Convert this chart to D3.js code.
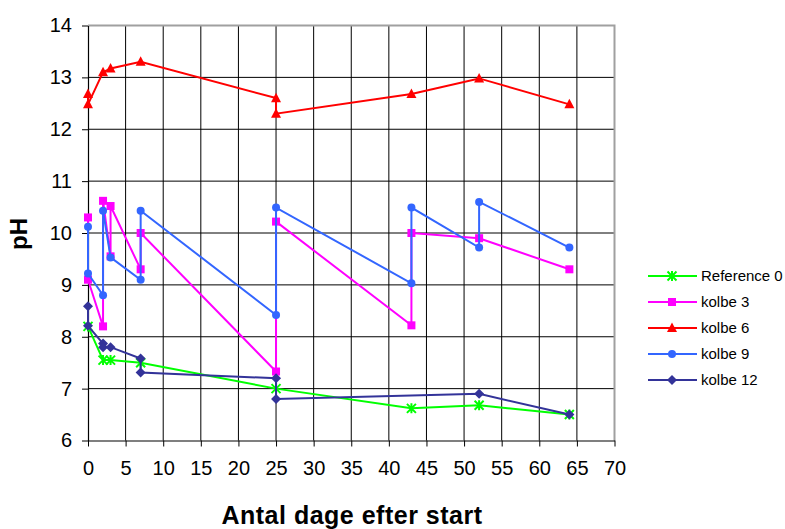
<!DOCTYPE html>
<html>
<head>
<meta charset="utf-8">
<script src="https://cdn.jsdelivr.net/npm/d3@7"></script>
<style>
  html, body { margin: 0; padding: 0; background: #fff; }
  svg { display: block; font-family: "Liberation Sans", Arial, sans-serif; }
</style>
</head>
<body>
<svg id="chart" width="785" height="529"></svg>
<script>
// ---- data ----
const xTicks = [0, 5, 10, 15, 20, 25, 30, 35, 40, 45, 50, 55, 60, 65, 70];
const yTicks = [6, 7, 8, 9, 10, 11, 12, 13, 14];

const seriesNames = ["Reference 0", "kolbe 3", "kolbe 6", "kolbe 9", "kolbe 12"];
const seriesColors = ["#00ff00", "#ff00ff", "#ff0000", "#3366ff", "#333399"];
const seriesMarkers = ["asterisk", "square", "triangle", "circle", "diamond"];

const refDays = [0, 2, 3, 7, 25, 43, 52, 64];
const refPH   = [8.2, 7.55, 7.55, 7.5, 7.0, 6.62, 6.68, 6.5];

const k3Days = [0, 0, 2, 2, 3, 3, 7, 7, 25, 25, 43, 43, 52, 64];
const k3PH   = [10.3, 9.1, 8.2, 10.62, 9.55, 10.52, 9.3, 10.0, 7.33, 10.22, 8.22, 10.0, 9.9, 9.3];

const k6Days = [0, 0, 2, 3, 7, 25, 25, 43, 52, 64];
const k6PH   = [12.68, 12.48, 13.1, 13.17, 13.3, 12.6, 12.3, 12.68, 12.98, 12.48];

const k9Days = [0, 0, 2, 2, 3, 7, 7, 25, 25, 43, 43, 52, 52, 64];
const k9PH   = [10.12, 9.22, 8.8, 10.43, 9.53, 9.1, 10.43, 8.42, 10.49, 9.03, 10.49, 9.72, 10.6, 9.72];

const k12Days = [0, 0, 2, 2, 3, 7, 7, 25, 25, 52, 64];
const k12PH   = [8.59, 8.21, 7.87, 7.8, 7.8, 7.58, 7.31, 7.2, 6.8, 6.9, 6.5];

const allDays = [refDays, k3Days, k6Days, k9Days, k12Days];
const allPH = [refPH, k3PH, k6PH, k9PH, k12PH];

const xTitle = "Antal dage efter start";
const yTitle = "pH";

// ---- layout ----
(function () {
const svg = d3.select("#chart");
const pLeft = 88, pRight = 614.5, pTop = 25.5, pBottom = 440.5;
const x = d3.scaleLinear().domain([0, 70]).range([pLeft, pRight]);
const y = d3.scaleLinear().domain([6, 14]).range([pBottom, pTop]);

// gridlines
const grid = svg.append("g");
grid.selectAll("line.h").data(yTicks.filter(d => d > 6 && d < 14)).enter().append("line")
  .attr("x1", pLeft).attr("x2", pRight)
  .attr("y1", d => y(d)).attr("y2", d => y(d))
  .attr("stroke", "#000").attr("stroke-width", 1);
grid.selectAll("line.v").data(xTicks.filter(d => d > 0 && d < 70)).enter().append("line")
  .attr("y1", pTop).attr("y2", pBottom)
  .attr("x1", d => x(d)).attr("x2", d => x(d))
  .attr("stroke", "#000").attr("stroke-width", 1);

// plot border (top/right gray)
svg.append("path")
  .attr("d", `M${pLeft},${y(14)}H${x(70)}V${pBottom}`)
  .attr("fill", "none").attr("stroke", "#a0a0a0").attr("stroke-width", 2);

// axes
const xAxis = d3.axisBottom(x).tickValues(xTicks).tickSize(6).tickPadding(14).tickSizeOuter(0);
const gx = svg.append("g").attr("transform", `translate(0,${pBottom})`).call(xAxis);
gx.select(".domain").attr("stroke", "#000").attr("stroke-width", 1.2);
gx.selectAll(".tick line").attr("stroke", "#000");
gx.selectAll(".tick text").attr("font-size", 20).attr("fill", "#000")
  .attr("font-family", "'Liberation Sans', Arial, sans-serif");

const yAxis = d3.axisLeft(y).tickValues(yTicks).tickSize(6).tickPadding(10).tickSizeOuter(0);
const gy = svg.append("g").attr("transform", `translate(${pLeft},0)`).call(yAxis);
gy.select(".domain").attr("stroke", "#000").attr("stroke-width", 1.2);
gy.selectAll(".tick line").attr("stroke", "#000");
gy.selectAll(".tick text").attr("font-size", 20).attr("fill", "#000")
  .attr("font-family", "'Liberation Sans', Arial, sans-serif");

// titles
svg.append("text").attr("x", 352).attr("y", 524)
  .attr("text-anchor", "middle").attr("font-size", 25).attr("font-weight", "bold")
  .attr("letter-spacing", 0.5).text(xTitle);
svg.append("text").attr("transform", "translate(27,234) rotate(-90)")
  .attr("text-anchor", "middle").attr("font-size", 24).attr("font-weight", "bold")
  .text(yTitle);

// markers
function drawMarker(g, type, cx, cy, color) {
  if (type === "square") {
    g.append("rect").attr("x", cx - 4).attr("y", cy - 4).attr("width", 8).attr("height", 8).attr("fill", color);
  } else if (type === "triangle") {
    g.append("path").attr("d", `M${cx},${cy - 5.5}L${cx + 5},${cy + 4}L${cx - 5},${cy + 4}Z`).attr("fill", color);
  } else if (type === "circle") {
    g.append("circle").attr("cx", cx).attr("cy", cy).attr("r", 4).attr("fill", color);
  } else if (type === "diamond") {
    g.append("path").attr("d", `M${cx},${cy - 5}L${cx + 5},${cy}L${cx},${cy + 5}L${cx - 5},${cy}Z`).attr("fill", color);
  } else if (type === "asterisk") {
    const r = 4.5;
    g.append("path")
      .attr("d", `M${cx},${cy - r - 0.5}V${cy + r + 0.5}M${cx - r},${cy - r}L${cx + r},${cy + r}M${cx + r},${cy - r}L${cx - r},${cy + r}`)
      .attr("stroke", color).attr("stroke-width", 2).attr("fill", "none");
  }
}

const line = d3.line().x(d => x(d[0])).y(d => y(d[1]));
seriesNames.forEach((name, i) => {
  const pts = allDays[i].map((d, j) => [d, allPH[i][j]]);
  const g = svg.append("g");
  g.append("path").datum(pts).attr("d", line)
    .attr("fill", "none").attr("stroke", seriesColors[i]).attr("stroke-width", 2);
  pts.forEach(p => drawMarker(g, seriesMarkers[i], x(p[0]), y(p[1]), seriesColors[i]));
});

// legend
const legendY = [276, 302, 328, 354, 380];
seriesNames.forEach((name, i) => {
  const g = svg.append("g");
  g.append("line").attr("x1", 648).attr("x2", 697).attr("y1", legendY[i]).attr("y2", legendY[i])
    .attr("stroke", seriesColors[i]).attr("stroke-width", 2);
  drawMarker(g, seriesMarkers[i], 672, legendY[i], seriesColors[i]);
  g.append("text").attr("x", 701).attr("y", legendY[i]).attr("dy", "0.36em")
    .attr("font-size", 15).attr("fill", "#000").text(name);
});
})();
</script>
</body>
</html>
